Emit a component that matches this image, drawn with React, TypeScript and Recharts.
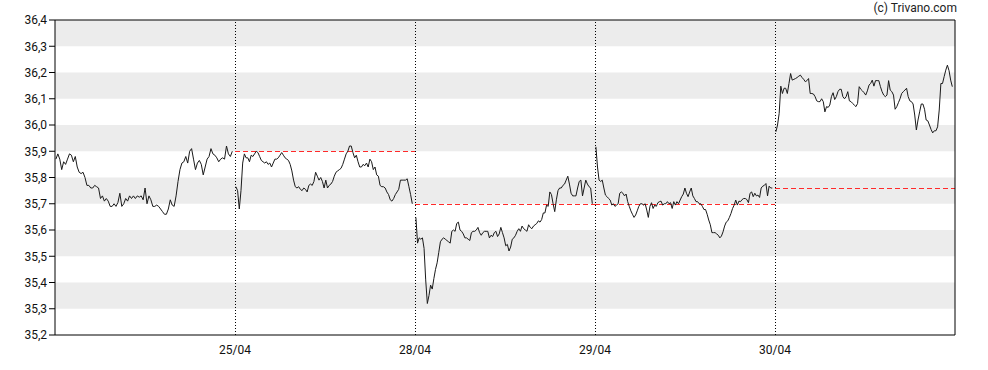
import { LineChart, Line, XAxis, YAxis, ReferenceArea, ReferenceLine } from "recharts";

// intraday prices, one array per trading day (24/04 .. 30/04)
const day24 = [35.87, 35.89, 35.87, 35.83, 35.86, 35.85, 35.87, 35.89, 35.885, 35.86, 35.88, 35.84, 35.82, 35.815, 35.82, 35.8, 35.77, 35.77, 35.76, 35.76, 35.77, 35.765, 35.76, 35.72, 35.73, 35.71, 35.72, 35.71, 35.69, 35.69, 35.7, 35.69, 35.705, 35.74, 35.69, 35.7, 35.72, 35.71, 35.73, 35.72, 35.73, 35.72, 35.73, 35.725, 35.73, 35.715, 35.76, 35.7, 35.73, 35.715, 35.69, 35.69, 35.695, 35.69, 35.68, 35.67, 35.66, 35.66, 35.68, 35.715, 35.695, 35.69, 35.73, 35.785, 35.83, 35.855, 35.86, 35.88, 35.855, 35.9, 35.91, 35.87, 35.83, 35.855, 35.865, 35.85, 35.81, 35.84, 35.87, 35.88, 35.91, 35.89, 35.885, 35.875, 35.86, 35.87, 35.875, 35.87, 35.92, 35.89, 35.88, 35.9];
const day25 = [35.765, 35.75, 35.68, 35.75, 35.855, 35.89, 35.875, 35.875, 35.86, 35.885, 35.88, 35.89, 35.9, 35.895, 35.88, 35.865, 35.86, 35.855, 35.86, 35.85, 35.855, 35.84, 35.855, 35.87, 35.87, 35.875, 35.885, 35.895, 35.885, 35.875, 35.87, 35.865, 35.85, 35.825, 35.79, 35.765, 35.76, 35.765, 35.755, 35.75, 35.76, 35.755, 35.745, 35.77, 35.775, 35.77, 35.785, 35.82, 35.805, 35.79, 35.8, 35.785, 35.76, 35.79, 35.76, 35.77, 35.775, 35.785, 35.805, 35.82, 35.825, 35.83, 35.835, 35.85, 35.87, 35.89, 35.9, 35.92, 35.92, 35.895, 35.875, 35.885, 35.86, 35.84, 35.84, 35.85, 35.845, 35.855, 35.84, 35.87, 35.86, 35.83, 35.84, 35.81, 35.805, 35.77, 35.765, 35.765, 35.76, 35.745, 35.735, 35.715, 35.71, 35.72, 35.735, 35.745, 35.755, 35.79, 35.79, 35.79, 35.79, 35.795, 35.765, 35.735, 35.7];
const day28 = [35.648, 35.55, 35.57, 35.565, 35.57, 35.53, 35.41, 35.32, 35.35, 35.39, 35.375, 35.415, 35.45, 35.475, 35.515, 35.555, 35.565, 35.57, 35.565, 35.56, 35.555, 35.55, 35.595, 35.6, 35.595, 35.625, 35.63, 35.6, 35.595, 35.585, 35.57, 35.57, 35.565, 35.56, 35.59, 35.595, 35.595, 35.6, 35.61, 35.59, 35.58, 35.59, 35.595, 35.595, 35.595, 35.57, 35.58, 35.575, 35.59, 35.595, 35.575, 35.585, 35.61, 35.59, 35.57, 35.54, 35.545, 35.52, 35.535, 35.565, 35.57, 35.58, 35.595, 35.605, 35.595, 35.615, 35.605, 35.6, 35.595, 35.62, 35.61, 35.605, 35.615, 35.62, 35.625, 35.635, 35.63, 35.64, 35.665, 35.665, 35.695, 35.69, 35.745, 35.735, 35.7, 35.67, 35.715, 35.75, 35.76, 35.76, 35.77, 35.775, 35.79, 35.805, 35.775, 35.74, 35.73, 35.73, 35.73, 35.76, 35.785, 35.79, 35.73, 35.76, 35.79, 35.775, 35.765, 35.76, 35.7];
const day29 = [35.917, 35.84, 35.79, 35.785, 35.79, 35.76, 35.733, 35.727, 35.72, 35.714, 35.695, 35.7, 35.69, 35.695, 35.7, 35.74, 35.745, 35.74, 35.73, 35.737, 35.708, 35.69, 35.673, 35.66, 35.648, 35.657, 35.673, 35.69, 35.7, 35.7, 35.695, 35.7, 35.676, 35.648, 35.69, 35.704, 35.682, 35.695, 35.69, 35.704, 35.708, 35.71, 35.695, 35.7, 35.7, 35.708, 35.7, 35.704, 35.682, 35.708, 35.695, 35.708, 35.7, 35.714, 35.727, 35.737, 35.76, 35.74, 35.727, 35.745, 35.76, 35.73, 35.72, 35.708, 35.708, 35.7, 35.7, 35.69, 35.678, 35.678, 35.66, 35.638, 35.62, 35.59, 35.59, 35.59, 35.585, 35.58, 35.57, 35.577, 35.593, 35.615, 35.63, 35.635, 35.648, 35.663, 35.682, 35.695, 35.714, 35.695, 35.71, 35.708, 35.716, 35.72, 35.72, 35.716, 35.704, 35.74, 35.745, 35.727, 35.74, 35.73, 35.733, 35.724, 35.76, 35.767, 35.77, 35.777, 35.73, 35.767, 35.76, 35.76];
const day30 = [35.974, 36.0, 36.044, 36.148, 36.12, 36.14, 36.14, 36.12, 36.158, 36.196, 36.171, 36.174, 36.177, 36.181, 36.186, 36.19, 36.181, 36.174, 36.165, 36.169, 36.177, 36.12, 36.12, 36.118, 36.108, 36.092, 36.089, 36.089, 36.1, 36.089, 36.05, 36.07, 36.067, 36.076, 36.108, 36.123, 36.097, 36.108, 36.127, 36.136, 36.136, 36.108, 36.1, 36.108, 36.127, 36.092, 36.089, 36.082, 36.076, 36.07, 36.082, 36.146, 36.136, 36.13, 36.123, 36.114, 36.13, 36.152, 36.158, 36.171, 36.148, 36.169, 36.169, 36.169, 36.146, 36.127, 36.114, 36.108, 36.114, 36.169, 36.133, 36.127, 36.114, 36.06, 36.07, 36.085, 36.1, 36.12, 36.127, 36.133, 36.14, 36.108, 36.092, 36.089, 36.08, 36.038, 35.981, 36.019, 36.05, 36.08, 36.08, 36.06, 36.019, 36.016, 36.0, 35.983, 35.97, 35.978, 35.978, 35.993, 36.057, 36.158, 36.158, 36.184, 36.209, 36.228, 36.207, 36.171, 36.146];

const days = [day24, day25, day28, day29, day30];
const dayLabels = ["25/04", "28/04", "29/04", "30/04"];
const yTicks = [35.2, 35.3, 35.4, 35.5, 35.6, 35.7, 35.8, 35.9, 36.0, 36.1, 36.2, 36.3, 36.4];
const bands = [[36.3, 36.4], [36.1, 36.2], [35.9, 36.0], [35.7, 35.8], [35.5, 35.6], [35.3, 35.4]];

// one row per quote, x = day index + fraction of session; a null row breaks the line between days
const rows: { x: number; v: number | null }[] = [];
days.forEach((vals, d) => {
  vals.forEach((v, i) => rows.push({ x: d + 0.005 + (i / (vals.length - 1)) * 0.98, v }));
  rows.push({ x: d + 0.995, v: null });
});

const font = "Roboto, Arial, sans-serif";

// previous-close line, snapped to the pixel grid so the 1px dash stays crisp red
const PrevCloseShape = (props: any) => {
  const y = Math.round(props.y1) + 0.5;
  return <line x1={props.x1} x2={props.x2} y1={y} y2={y} stroke="#ff2a2a" strokeWidth={1} strokeDasharray="5 3" />;
};

export default function App() {
  return (
    <div style={{ position: "absolute", left: 0, top: 0, width: 988, height: 370, fontFamily: font }}>
      <div style={{ position: "absolute", right: 31, top: 1, fontSize: 12, color: "#222" }}>(c) Trivano.com</div>
      <LineChart width={988} height={370} data={rows} margin={{ top: 20, right: 33, bottom: 0, left: 5 }}>
        {bands.map(([a, b]) => (
          <ReferenceArea key={a} y1={a} y2={b} fill="#ececec" fillOpacity={1} stroke="none" />
        ))}
        {[1, 2, 3, 4].map((d) => (
          <ReferenceLine key={"v" + d} x={d} stroke="#000" strokeDasharray="1 2" shapeRendering="crispEdges" />
        ))}
        {[1, 2, 3, 4].map((d) => {
          const prev = days[d - 1][days[d - 1].length - 1];
          return (
            <ReferenceLine
              key={"p" + d}
              segment={[{ x: d, y: prev }, { x: d + 1, y: prev }]}
              shape={PrevCloseShape}
            />
          );
        })}
        <XAxis
          type="number"
          dataKey="x"
          domain={[0, 5]}
          ticks={[1, 2, 3, 4]}
          tickFormatter={(v: number) => dayLabels[v - 1]}
          tickLine={false}
          tickMargin={4}
          height={35}
          axisLine={{ stroke: "#000" }}
          tick={{ fill: "#111", fontSize: 12, fontFamily: font }}
        />
        <YAxis
          domain={[35.2, 36.4]}
          ticks={yTicks}
          tickFormatter={(v: number) => v.toFixed(1).replace(".", ",")}
          tickLine={{ stroke: "#000" }}
          tickSize={6}
          tickMargin={2}
          width={50}
          axisLine={{ stroke: "#000" }}
          tick={{ fill: "#111", fontSize: 12, fontFamily: font }}
        />
        <Line type="linear" dataKey="v" stroke="#1a1a1a" strokeWidth={1} dot={false} isAnimationActive={false} connectNulls={false} />
        <ReferenceLine y={36.4} stroke="#000" />
        <ReferenceLine x={5} stroke="#000" />
      </LineChart>
    </div>
  );
}
